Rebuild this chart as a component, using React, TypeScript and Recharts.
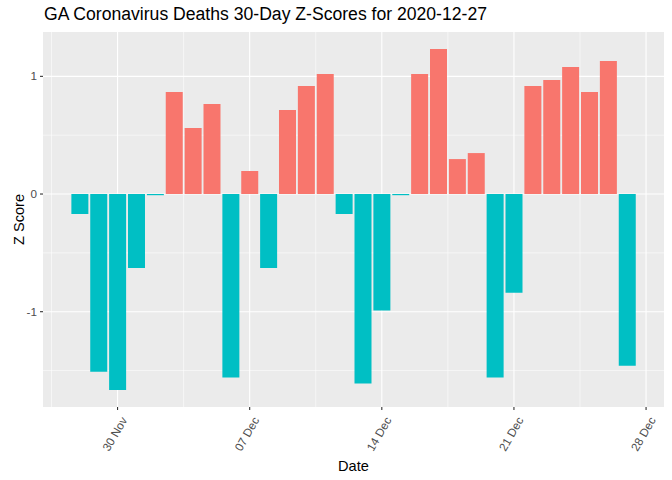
import { BarChart, Bar, Cell, XAxis, YAxis, CartesianGrid } from 'recharts';

// one bar per day, 2020-11-28 .. 2020-12-27
const dates = [
  '2020-11-28', '2020-11-29', '2020-11-30', '2020-12-01', '2020-12-02', '2020-12-03',
  '2020-12-04', '2020-12-05', '2020-12-06', '2020-12-07', '2020-12-08', '2020-12-09',
  '2020-12-10', '2020-12-11', '2020-12-12', '2020-12-13', '2020-12-14', '2020-12-15',
  '2020-12-16', '2020-12-17', '2020-12-18', '2020-12-19', '2020-12-20', '2020-12-21',
  '2020-12-22', '2020-12-23', '2020-12-24', '2020-12-25', '2020-12-26', '2020-12-27',
];
const zScores = [
  -0.17, -1.51, -1.665, -0.628, -0.01, 0.867,
  0.561, 0.765, -1.56, 0.195, -0.628, 0.714,
  0.918, 1.02, -0.17, -1.61, -0.99, -0.01,
  1.02, 1.232, 0.297, 0.348, -1.56, -0.84,
  0.918, 0.969, 1.08, 0.867, 1.13, -1.46,
];

const xTickDates = ['2020-11-30', '2020-12-07', '2020-12-14', '2020-12-21', '2020-12-28'];
const xTickLabels = ['30 Nov', '07 Dec', '14 Dec', '21 Dec', '28 Dec'];
const yTicks = [-1, 0, 1];
const yMinor = [-1.5, -0.5, 0.5];

const POS = '#F8766D';
const NEG = '#00BFC4';
const FONT = '"Liberation Sans", Arial, sans-serif';

const dayOf = (d: string) => Math.round((Date.parse(d) - Date.parse(dates[0])) / 86400000);

const chartData = dates.map((d, i) => ({ day: dayOf(d), z: zScores[i] }));
const xTicks = xTickDates.map(dayOf);
const xMinor = xTicks.map((t) => t - 3.5);

// ggplot-style 5% expansion around the bar extents
const xDomain = [-0.45 - 1.5, chartData.length - 0.55 + 1.5];
const zMin = Math.min(...zScores);
const zMax = Math.max(...zScores);
const yDomain = [zMin - (zMax - zMin) * 0.05, zMax + (zMax - zMin) * 0.05];

const XTick = ({ x, y, payload }: any) => {
  const idx = xTicks.indexOf(payload.value);
  return (
    <g transform={`translate(${x + 10},${y + 8})`}>
      <text transform="rotate(-60)" textAnchor="end" fontSize={11.7} fill="#4D4D4D" fontFamily={FONT}>
        {xTickLabels[idx]}
      </text>
    </g>
  );
};

const App = () => {
  return (
    <div style={{ position: 'absolute', left: 0, top: 0, width: 672, height: 480, background: '#fff' }}>
      <div
        style={{
          position: 'absolute',
          left: 44,
          top: 4,
          fontFamily: FONT,
          fontSize: 17.6,
          color: '#000',
          whiteSpace: 'nowrap',
        }}
      >
        GA Coronavirus Deaths 30-Day Z-Scores for 2020-12-27
      </div>
      <BarChart
        width={672}
        height={480}
        data={chartData}
        margin={{ top: 32, right: 8, bottom: 0, left: 0 }}
        style={{ fontFamily: FONT }}
      >
        <CartesianGrid
          fill="#EBEBEB"
          fillOpacity={1}
          stroke="#FFFFFF"
          strokeWidth={0.55}
          horizontalValues={yMinor}
          verticalValues={xMinor}
        />
        <CartesianGrid
          stroke="#FFFFFF"
          strokeWidth={1.1}
          horizontalValues={yTicks}
          verticalValues={xTicks}
        />
        <XAxis
          dataKey="day"
          type="number"
          domain={xDomain}
          ticks={xTicks}
          allowDataOverflow
          axisLine={false}
          tickLine={{ stroke: '#333333', strokeWidth: 1.1 }}
          tickSize={3}
          height={73}
          tick={<XTick />}
          interval={0}
          label={{ value: 'Date', position: 'insideBottom', offset: 9, fill: '#000', fontSize: 14.6, fontFamily: FONT }}
        />
        <YAxis
          type="number"
          domain={yDomain}
          ticks={yTicks}
          allowDataOverflow
          axisLine={false}
          tickLine={{ stroke: '#333333', strokeWidth: 1.1 }}
          tickSize={3}
          tickMargin={3}
          width={43}
          tick={{ fill: '#4D4D4D', fontSize: 11.7, fontFamily: FONT }}
          label={{ value: 'Z Score', angle: -90, position: 'insideLeft', offset: 19, fill: '#000', fontSize: 14.6, fontFamily: FONT, style: { textAnchor: 'middle' } }}
        />
        <Bar dataKey="z" barSize={17} isAnimationActive={false}>
          {chartData.map((d) => (
            <Cell key={d.day} fill={d.z > 0 ? POS : NEG} />
          ))}
        </Bar>
      </BarChart>
    </div>
  );
};

export default App;
